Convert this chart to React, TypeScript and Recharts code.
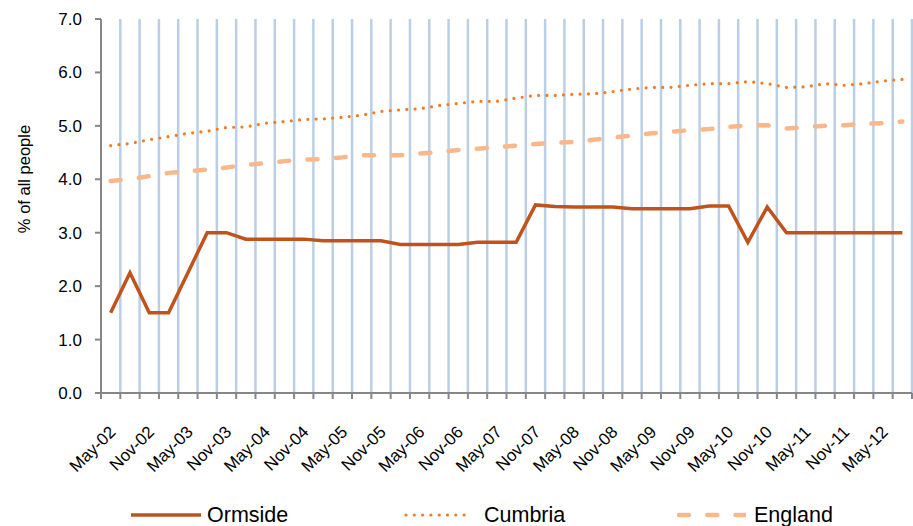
import React from 'react';
import { LineChart, Line, XAxis, YAxis, ReferenceLine, Legend, Label } from 'recharts';

// quarterly categories, May-02 .. Aug-12 (only every other one is labelled)
const quarters = [
  'May-02', 'Aug-02', 'Nov-02', 'Feb-03', 'May-03', 'Aug-03', 'Nov-03', 'Feb-04',
  'May-04', 'Aug-04', 'Nov-04', 'Feb-05', 'May-05', 'Aug-05', 'Nov-05', 'Feb-06',
  'May-06', 'Aug-06', 'Nov-06', 'Feb-07', 'May-07', 'Aug-07', 'Nov-07', 'Feb-08',
  'May-08', 'Aug-08', 'Nov-08', 'Feb-09', 'May-09', 'Aug-09', 'Nov-09', 'Feb-10',
  'May-10', 'Aug-10', 'Nov-10', 'Feb-11', 'May-11', 'Aug-11', 'Nov-11', 'Feb-12',
  'May-12', 'Aug-12',
];

const ormside = [
  1.5, 2.25, 1.5, 1.5, 2.25, 3.0, 3.0, 2.88, 2.88, 2.88, 2.88, 2.85, 2.85, 2.85,
  2.85, 2.78, 2.78, 2.78, 2.78, 2.82, 2.82, 2.82, 3.52, 3.49, 3.48, 3.48, 3.48, 3.45,
  3.45, 3.45, 3.45, 3.5, 3.5, 2.82, 3.48, 3.0, 3.0, 3.0, 3.0, 3.0, 3.0, 3.0,
];

const cumbria = [
  4.63, 4.67, 4.74, 4.8, 4.86, 4.9, 4.97, 4.98, 5.05, 5.08, 5.12, 5.13, 5.16, 5.2,
  5.27, 5.3, 5.32, 5.38, 5.42, 5.46, 5.46, 5.52, 5.57, 5.57, 5.59, 5.6, 5.64, 5.69,
  5.72, 5.72, 5.76, 5.79, 5.79, 5.83, 5.79, 5.72, 5.73, 5.79, 5.76, 5.79, 5.84, 5.87,
];

const england = [
  3.97, 4.0, 4.06, 4.12, 4.15, 4.18, 4.22, 4.27, 4.3, 4.34, 4.37, 4.38, 4.41, 4.45,
  4.45, 4.45, 4.48, 4.51, 4.55, 4.57, 4.6, 4.63, 4.66, 4.68, 4.7, 4.74, 4.78, 4.82,
  4.86, 4.89, 4.92, 4.94, 4.98, 5.01, 5.01, 4.95, 4.98, 5.0, 5.01, 5.04, 5.05, 5.08,
];

const yTicks = [0, 1, 2, 3, 4, 5, 6, 7];

const AXIS = '#868686';
const GRID = '#BACFE6';
const FONT = '"Liberation Sans", Arial, sans-serif';

// each quarter sits in the middle of its slot, like Excel's "between tick marks"
const data = quarters.map((q, i) => ({
  pos: i + 0.5,
  quarter: q,
  Ormside: ormside[i],
  Cumbria: cumbria[i],
  England: england[i],
}));

const boundaries = quarters.map((_, i) => i + 1);
const labelTicks = quarters.map((_, i) => i + 0.5).filter((_, i) => i % 2 === 0);
const xTicks = [0, ...boundaries, ...labelTicks].sort((a, b) => a - b);

const series = [
  { key: 'Ormside', color: '#C0531B', width: 3.5, dash: undefined, cap: 'butt', icon: 70, gap: 6 },
  { key: 'Cumbria', color: '#F47B20', width: 3.2, dash: '0 8.3', cap: 'round', icon: 62, gap: 18 },
  { key: 'England', color: '#FAB88A', width: 4.5, dash: '10 18.3', cap: 'round', icon: 69, gap: 8 },
];

const XTick = (props: any) => {
  const { x, y, payload } = props;
  const v = payload.value;
  if (Number.isInteger(v)) {
    return <line x1={x} y1={y} x2={x} y2={y + 6} stroke={AXIS} strokeWidth={2} />;
  }
  const lx = x + 6;
  const ly = y + 40;
  return (
    <text x={lx} y={ly} transform={`rotate(-45 ${lx} ${ly})`} textAnchor="end" fontSize={17} fill="#000">
      {quarters[Math.floor(v)]}
    </text>
  );
};

const YTitle = (props: any) => {
  const vb = props.viewBox || { x: 0, y: 19, width: 101, height: 374 };
  const cx = vb.x + 24;
  const cy = vb.y + vb.height / 2 - 27;
  return (
    <text x={cx} y={cy} transform={`rotate(-90 ${cx} ${cy})`} textAnchor="middle"
      dominantBaseline="central" fontSize={16.5} fill="#000">
      % of all people
    </text>
  );
};

const renderLegend = () => (
  <div style={{ display: 'flex', paddingLeft: 131, paddingTop: 17, fontSize: 21.5, color: '#000' }}>
    {series.map((s) => (
      <div key={s.key}
        style={{ width: 273, flexShrink: 0, display: 'flex', alignItems: 'center', height: 24 }}>
        <svg width={s.icon} height={10} style={{ marginRight: s.gap, flexShrink: 0 }}>
          <line x1={s.cap === 'round' ? 2 : 0} y1={5} x2={s.icon} y2={5} stroke={s.color}
            strokeWidth={s.width} strokeDasharray={s.dash} strokeLinecap={s.cap as any} />
        </svg>
        <span>{s.key}</span>
      </div>
    ))}
  </div>
);

export default function App() {
  return (
    <div style={{ position: 'absolute', left: 0, top: 0, fontFamily: FONT }}>
      <LineChart width={913} height={526} data={data}
        margin={{ top: 19, right: 1, bottom: 0, left: 0 }}>
        {boundaries.map((b) => (
          <ReferenceLine key={b} x={b} stroke={GRID} strokeWidth={2.5} />
        ))}
        <XAxis type="number" dataKey="pos" domain={[0, quarters.length]} ticks={xTicks}
          interval={0} tick={<XTick />} tickLine={false} tickSize={0} tickMargin={0}
          axisLine={{ stroke: AXIS, strokeWidth: 2 }} height={93} allowDataOverflow />
        <YAxis type="number" domain={[0, 7]} ticks={yTicks} interval={0} width={101}
          tickFormatter={(v: number) => v.toFixed(1)} tickSize={6} tickMargin={13}
          tick={{ fontSize: 17, fill: '#000' }}
          axisLine={{ stroke: AXIS, strokeWidth: 2 }} tickLine={{ stroke: AXIS, strokeWidth: 2 }}>
          <Label content={<YTitle />} />
        </YAxis>
        {series.map((s) => (
          <Line key={s.key} type="linear" dataKey={s.key} stroke={s.color} strokeWidth={s.width}
            strokeDasharray={s.dash} strokeLinecap={s.cap as any} dot={false} activeDot={false}
            isAnimationActive={false} />
        ))}
        <Legend verticalAlign="bottom" height={40} content={renderLegend}
          wrapperStyle={{ left: 0, bottom: 0, width: 913, overflow: 'hidden' }} />
      </LineChart>
    </div>
  );
}
